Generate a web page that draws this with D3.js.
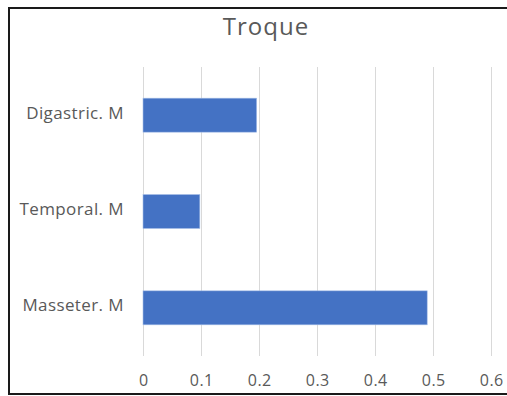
<!DOCTYPE html>
<html><head><meta charset="utf-8">
<script src="https://cdn.jsdelivr.net/npm/d3@7"></script>
<style>
html,body{margin:0;padding:0;background:#fff;}
svg{display:block;}
</style></head>
<body>
<svg id="chart" width="507" height="396"></svg>
<script>
const title = "Troque";
const categories = ["Digastric. M", "Temporal. M", "Masseter. M"];
const values = [0.196, 0.098, 0.49];
const tickValues = [0, 0.1, 0.2, 0.3, 0.4, 0.5, 0.6];

const svg = d3.select("#chart");

// frame
svg.append("rect").attr("x", 9).attr("y", 8).attr("width", 520).attr("height", 386)
  .attr("fill", "#fff").attr("stroke", "#1a1a1a").attr("stroke-width", 2);

const x = d3.scaleLinear().domain([0, 0.6]).range([143, 491]);
const y = d3.scaleBand().domain(categories).range([67, 356]).paddingInner(0.647).paddingOuter(0.3235);

// gridlines
svg.append("g").selectAll("line").data(tickValues).join("line")
  .attr("x1", d => Math.round(x(d)) + 0.5).attr("x2", d => Math.round(x(d)) + 0.5)
  .attr("y1", 67).attr("y2", 356)
  .attr("stroke", "#d9d9d9").attr("stroke-width", 1);

// bars
svg.append("g").selectAll("rect").data(categories).join("rect")
  .attr("x", x(0)).attr("y", d => y(d))
  .attr("width", (d, i) => x(values[i]) - x(0))
  .attr("height", y.bandwidth())
  .attr("fill", "#4472C4").attr("stroke", "#a9c0e8").attr("stroke-width", 0.6);

// x axis tick labels
const xAxis = d3.axisBottom(x).tickValues(tickValues).tickSize(0).tickPadding(0)
  .tickFormat(d => d3.format("")(d));
const gx = svg.append("g").attr("transform", "translate(0,386)").call(xAxis);
gx.select(".domain").remove();
gx.selectAll("text").attr("dy", 0).attr("dx", "0.25px").attr("fill", "#595959")
  .style("font-family", "'Open Sans', sans-serif").style("font-size", "16px").style("letter-spacing", "0.5px");

// y axis labels
const yAxis = d3.axisLeft(y).tickSize(0).tickPadding(19);
const gy = svg.append("g").attr("transform", "translate(143,0)").call(yAxis);
gy.select(".domain").remove();
gy.selectAll("text").attr("dy", "0.2em").attr("fill", "#595959")
  .style("font-family", "'Open Sans', sans-serif").style("font-size", "17px").style("letter-spacing", "0.4px");

// title
svg.append("text").attr("x", 266).attr("y", 35).attr("text-anchor", "middle")
  .attr("fill", "#595959").style("font-family", "'Open Sans', sans-serif").style("font-size", "24px")
  .style("letter-spacing", "1px")
  .text(title);
</script>
</body></html>
